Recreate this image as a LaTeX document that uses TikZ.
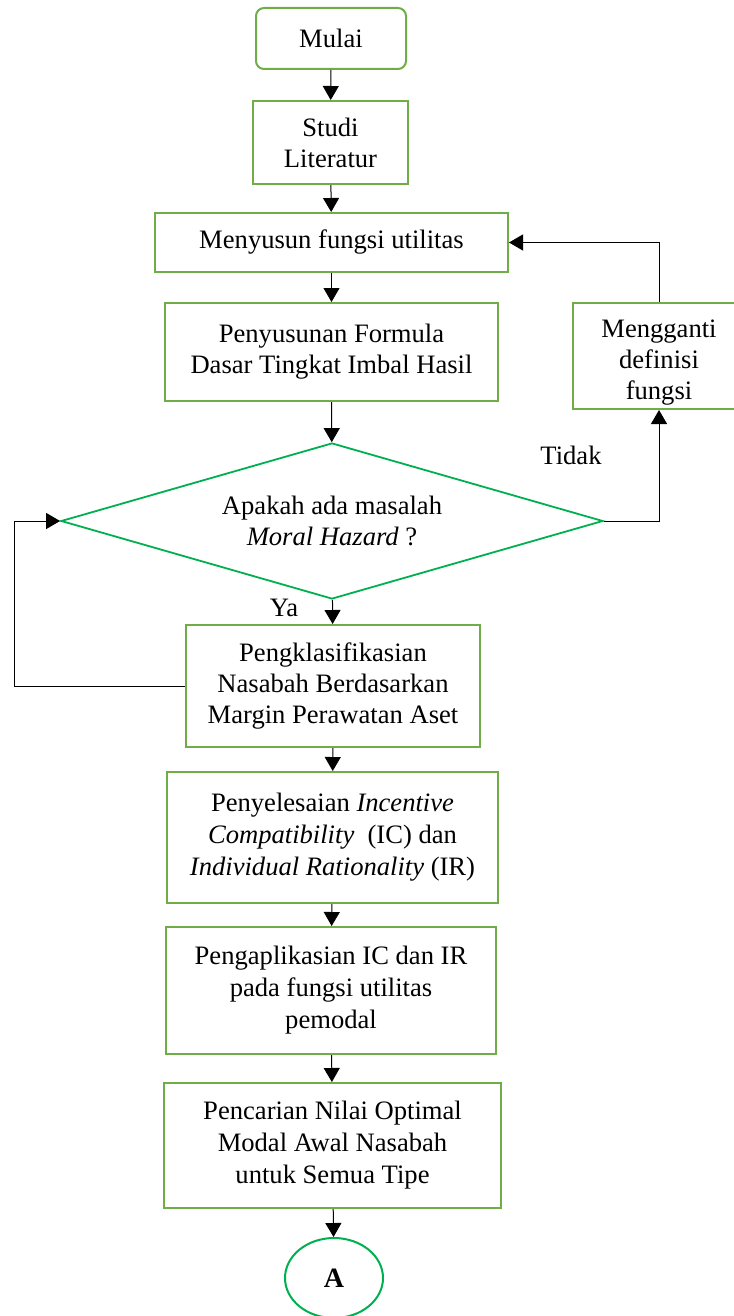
\documentclass[tikz,border=0pt]{standalone}
\usepackage{fontspec}
\setmainfont{Liberation Serif}
\usetikzlibrary{shapes.geometric,arrows.meta}
\definecolor{boxgreen}{RGB}{112,173,71}
\definecolor{diagreen}{RGB}{0,176,80}
\tikzset{
  proses/.style={draw=boxgreen,line width=1pt,align=center,inner sep=0pt},
  rapat/.style={font=\fontsize{13.3pt}{16pt}\selectfont},
  keputusan/.style={diamond,aspect=3.47,draw=diagreen,line width=0.9pt,align=center,inner sep=0pt,minimum width=271pt,minimum height=78pt},
  konektor/.style={ellipse,draw=diagreen,line width=1pt,inner sep=0pt,minimum width=49pt,minimum height=40pt,font=\fontsize{14pt}{16pt}\selectfont\bfseries}
}

\begin{document}
\begin{tikzpicture}[x=0.5pt,y=-0.5pt,font=\fontsize{13.3pt}{15.5pt}\selectfont,>={Triangle[width=8pt,length=7pt]},line width=0.5pt]
\useasboundingbox (0,0) rectangle (733,1316);
\node[proses,rounded corners=4pt,minimum width=75pt,minimum height=30.5pt] (mulai) at (331,38.5) {Mulai};
\node[proses,minimum width=77.5pt,minimum height=41.5pt] (studi) at (330.5,142.5) {Studi\\Literatur};
\node[proses,minimum width=176.5pt,minimum height=29.5pt] (susun) at (331.5,242.5) {Menyusun fungsi utilitas};
\node[proses,minimum width=166.5pt,minimum height=49pt] (formula) at (331.5,352) {Penyusunan Formula\\Dasar Tingkat Imbal Hasil};
\node[proses,minimum width=88pt,minimum height=53pt] (ganti) at (661,356) {};
\node[align=center,inner sep=0pt] (gantiteks) at (659,363) {Mengganti\\definisi\\fungsi};
\node[keputusan] (cek) at (332,521) {Apakah ada masalah\\\textit{Moral Hazard} ?};
\node[proses,minimum width=147pt,minimum height=61pt] (klas) at (333,686) {Pengklasifikasian\\Nasabah Berdasarkan\\Margin Perawatan Aset};
\node[proses,rapat,minimum width=165.5pt,minimum height=65.5pt] (ic) at (332.5,837.5) {Penyelesaian \textit{Incentive}\\\textit{Compatibility}\ \ (IC) dan\\\textit{Individual Rationality} (IR)};
\node[proses,rapat,minimum width=165pt,minimum height=63.5pt] (aplik) at (331,990.5) {Pengaplikasian IC dan IR\\pada fungsi utilitas\\pemodal};
\node[proses,rapat,minimum width=168.5pt,minimum height=62.5pt] (cari) at (332.5,1145.5) {Pencarian Nilai Optimal\\Modal Awal Nasabah\\untuk Semua Tipe};
\node[konektor] (A) at (334,1278) {A};
\node (tidak) at (571,455) {Tidak}; \node (ya) at (284,608) {Ya};
\coordinate (kanan) at (659,521); \coordinate (atas) at (659,242.5);
\coordinate (kiri) at (14,521); \coordinate (bawah) at (14,686);
% alur utama
\draw[->] (mulai) -- (studi); \draw[->] (studi) -- (susun); \draw[->] (susun) -- (formula);
\draw[->] (formula) -- (cek); \draw[->] (cek) -- (klas); \draw[->] (klas) -- (ic);
\draw[->] (ic) -- (aplik); \draw[->] (aplik) -- (cari); \draw[->] (cari) -- (A);
% umpan balik
\draw[->] (cek.east) -- (kanan) -- (kanan |- ganti.south);
\draw[->] (atas |- ganti.north) -- (atas) -- (susun.east);
\draw[->] (klas.west) -- (bawah) -- (kiri) -- (cek.west);
\end{tikzpicture}
\end{document}
